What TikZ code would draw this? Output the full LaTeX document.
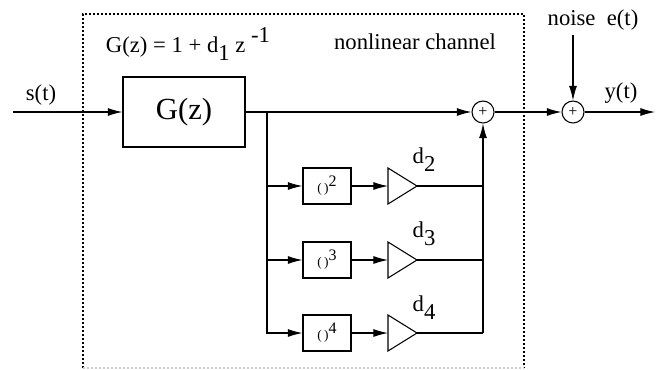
\documentclass[tikz,border=0pt]{standalone}
\usepackage{fontspec}
\setmainfont{Liberation Serif}
\usetikzlibrary{arrows.meta}
\definecolor{edgeGray}{RGB}{205,205,205}

\newcommand\lowr[1]{\raisebox{-0.35em}{#1}}
\newcommand\upr[1]{\raisebox{0.45em}{#1}}

\tikzset{
  sig/.style={line width=0.8pt},
  chan/.style={line width=0.8pt, dash pattern=on 1.5pt off 1.5pt},
  blk/.style={draw, sig, inner sep=0pt},
  pow/.style={blk, minimum width=36pt, minimum height=27pt, font=\fontsize{10}{12}\selectfont},
  sumnode/.style={draw, sig, circle, minimum size=16.5pt, inner sep=0pt, font=\fontsize{12}{12}\selectfont},
}

\begin{document}
\begin{tikzpicture}[x=0.75pt, y=-0.75pt, font=\fontsize{17}{20}\selectfont,
    >={Latex[length=11pt,width=6pt]}]
  \useasboundingbox (0,0) rectangle (663,369);

  % channel border
  \draw[chan] (83,368) -- (83,14) -- (524,14) -- (524,368);
  \draw[chan, edgeGray] (83,368) -- (524,368);

  % texts
  \node (form) at (188,44) {G(z) = 1 + d\lowr{1} z \upr{-1}};
  \node (title) at (415,42) {nonlinear channel};
  \node (slab) at (41,95) {s(t)};
  \node (ylab) at (621,93) {y(t)};
  \node (nlab) at (593,20) {noise\ \ e(t)};

  % blocks
  \node[blk, minimum width=91.5pt, minimum height=52.5pt, font=\fontsize{23}{26}\selectfont] (gz) at (184,112) {G(z)};
  \node[sumnode] (sum1) at (483,112) {+};
  \node[sumnode] (sum2) at (573,112) {+};
  \coordinate (in) at (13,112);
  \coordinate (out) at (655,112);
  \coordinate (noise) at (573,35);
  \coordinate (br) at (267,112);

  \node[pow] (p2) at (327,186) {(\,)\upr{\fontsize{12}{12}\selectfont 2}};
  \node[pow] (p3) at (327,260) {(\,)\upr{\fontsize{12}{12}\selectfont 3}};
  \node[pow] (p4) at (327,333) {(\,)\upr{\fontsize{12}{12}\selectfont 4}};

  % gains: base midpoint and apex
  \coordinate (a2) at (388,186); \coordinate (t2) at (417,186);
  \coordinate (a3) at (388,260); \coordinate (t3) at (417,260);
  \coordinate (a4) at (388,333); \coordinate (t4) at (417,333);
  \draw[sig] (a2) ++(0,-18) -- (t2) -- ++(-29,18) -- cycle;
  \draw[sig] (a3) ++(0,-18) -- (t3) -- ++(-29,18) -- cycle;
  \draw[sig] (a4) ++(0,-18) -- (t4) -- ++(-29,18) -- cycle;
  \node (d2) at (424,160) {d\lowr{2}};
  \node (d3) at (424,234) {d\lowr{3}};
  \node (d4) at (424,308) {d\lowr{4}};

  % signal paths
  \draw[sig, ->] (in) -- (gz);
  \draw[sig, ->] (gz) -- (sum1);
  \draw[sig, ->] (sum1) -- (sum2);
  \draw[sig, ->] (sum2) -- (out);
  \draw[sig, ->] (noise) -- (sum2);

  \draw[sig, ->] (br) |- (p2);
  \draw[sig, ->] (br) |- (p3);
  \draw[sig, ->] (br) |- (p4);
  \draw[sig, ->] (p2) -- (a2);
  \draw[sig, ->] (p3) -- (a3);
  \draw[sig, ->] (p4) -- (a4);
  \draw[sig] (t2) -- (t2 -| sum1);
  \draw[sig] (t3) -- (t3 -| sum1);
  \coordinate (jn) at (t4 -| sum1);
  \draw[sig] (t4) -- (jn);
  \draw[sig, ->] (jn) -- (sum1);
\end{tikzpicture}
\end{document}
